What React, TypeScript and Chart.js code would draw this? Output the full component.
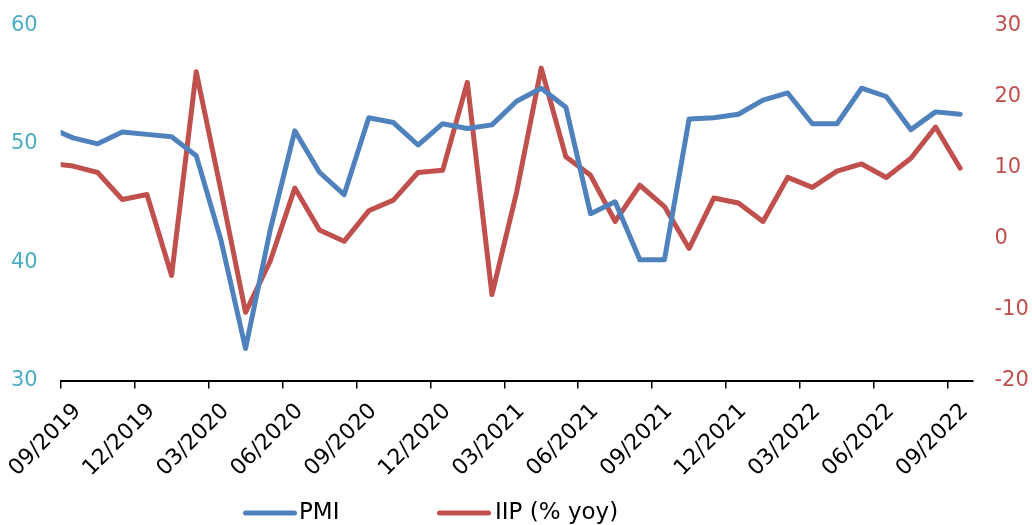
import React, { useEffect, useRef } from "react";
import { Chart, registerables } from "chart.js";

Chart.register(...registerables);

// Monthly categories (first one sits just left of the visible range and is clipped)
const months = [
  "08/2019", "09/2019", "10/2019", "11/2019", "12/2019",
  "01/2020", "02/2020", "03/2020", "04/2020", "05/2020", "06/2020",
  "07/2020", "08/2020", "09/2020", "10/2020", "11/2020", "12/2020",
  "01/2021", "02/2021", "03/2021", "04/2021", "05/2021", "06/2021",
  "07/2021", "08/2021", "09/2021", "10/2021", "11/2021", "12/2021",
  "01/2022", "02/2022", "03/2022", "04/2022", "05/2022", "06/2022",
  "07/2022", "08/2022", "09/2022",
];

const pmiValues = [
  51.4, 50.5, 50.0, 51.0, 50.8,
  50.6, 49.0, 41.9, 32.7, 42.7, 51.1,
  47.6, 45.7, 52.2, 51.8, 49.9, 51.7,
  51.3, 51.6, 53.6, 54.7, 53.1, 44.1,
  45.1, 40.2, 40.2, 52.1, 52.2, 52.5,
  53.7, 54.3, 51.7, 51.7, 54.7, 54.0,
  51.2, 52.7, 52.5,
];

const iipValues = [
  10.6, 10.2, 9.3, 5.5, 6.2,
  -5.2, 23.5, 6.8, -10.4, -3.2, 7.1,
  1.2, -0.4, 3.9, 5.4, 9.3, 9.6,
  22.0, -7.9, 6.5, 24.0, 11.5, 8.9,
  2.4, 7.5, 4.5, -1.4, 5.7, 5.0,
  2.4, 8.6, 7.2, 9.5, 10.5, 8.6,
  11.3, 15.7, 9.9,
];

const xTickLabels = [
  "09/2019", "12/2019", "03/2020", "06/2020", "09/2020", "12/2020",
  "03/2021", "06/2021", "09/2021", "12/2021", "03/2022", "06/2022", "09/2022",
];

const leftTicks = [30, 40, 50, 60];
const rightTicks = [-20, -10, 0, 10, 20, 30];
const seriesNames = ["PMI", "IIP (% yoy)"];

const BLUE = "#4F81BD";
const RED = "#C0504D";
const TEAL = "#4BACC6";
const FONT = "DejaVu Sans";

// first visible category sits at x = 0 (09/2019)
const xOf = (label: string) => months.indexOf(label) - months.indexOf("09/2019");
const xTickValues = xTickLabels.map((l) => xOf(l) - 0.5);
const xMin = xOf("09/2019") - 0.5;
const xMax = xOf("09/2022") + 0.5;

const legendPlugin = {
  id: "customLegend",
  afterDraw(chart: any) {
    const ctx = chart.ctx as CanvasRenderingContext2D;
    const items = [
      { x: 245.5, tx: 299, text: seriesNames[0], color: BLUE },
      { x: 439.5, tx: 495, text: seriesNames[1], color: RED },
    ];
    const y = 513;
    ctx.save();
    ctx.lineCap = "round";
    ctx.lineWidth = 5;
    ctx.font = `23px "${FONT}"`;
    ctx.textBaseline = "middle";
    ctx.textAlign = "left";
    for (const it of items) {
      ctx.strokeStyle = it.color;
      ctx.beginPath();
      ctx.moveTo(it.x, y);
      ctx.lineTo(it.x + 49, y);
      ctx.stroke();
      ctx.fillStyle = "#000";
      ctx.fillText(it.text, it.tx, y);
    }
    ctx.restore();
  },
};

export default function App() {
  const canvasRef = useRef<HTMLCanvasElement | null>(null);

  useEffect(() => {
    if (!canvasRef.current) return;
    const toPts = (vals: number[]) =>
      vals.map((v, i) => ({ x: xOf(months[i]), y: v }));

    const chart = new Chart(canvasRef.current, {
      type: "line",
      data: {
        datasets: [
          {
            label: seriesNames[0],
            data: toPts(pmiValues),
            borderColor: BLUE,
            backgroundColor: BLUE,
            borderWidth: 5,
            pointRadius: 0,
            tension: 0,
            borderCapStyle: "round",
            borderJoinStyle: "round",
            yAxisID: "y",
          },
          {
            label: seriesNames[1],
            data: toPts(iipValues),
            borderColor: RED,
            backgroundColor: RED,
            borderWidth: 5,
            pointRadius: 0,
            tension: 0,
            borderCapStyle: "round",
            borderJoinStyle: "round",
            yAxisID: "y1",
          },
        ],
      },
      options: {
        responsive: false,
        animation: false,
        devicePixelRatio: 1,
        layout: { padding: { top: 25.5, left: 0, right: 0, bottom: 0 } },
        plugins: {
          legend: { display: false },
          tooltip: { enabled: false },
        },
        scales: {
          x: {
            type: "linear",
            min: xMin,
            max: xMax,
            afterBuildTicks: (scale: any) => {
              scale.ticks = xTickValues.map((v) => ({ value: v }));
            },
            afterFit: (scale: any) => {
              scale.height = 144.5;
              scale.paddingLeft = 0;
              scale.paddingRight = 0;
            },
            ticks: {
              autoSkip: false,
              minRotation: 45,
              maxRotation: 45,
              padding: 10,
              labelOffset: 17,
              color: "#000",
              font: { family: FONT, size: 22 },
              callback: (_v: any, i: number) => xTickLabels[i],
            },
            grid: {
              display: true,
              drawOnChartArea: false,
              drawTicks: true,
              tickLength: 8,
              color: "#000",
              lineWidth: 1.5,
            },
            border: { display: true, color: "#000", width: 2 },
          },
          y: {
            position: "left",
            min: 30,
            max: 60,
            afterBuildTicks: (scale: any) => {
              scale.ticks = leftTicks.map((v) => ({ value: v }));
            },
            afterFit: (scale: any) => {
              scale.width = 60.7;
              scale.paddingTop = 0;
              scale.paddingBottom = 0;
            },
            ticks: {
              padding: 23,
              color: TEAL,
              font: { family: FONT, size: 21 },
            },
            grid: { display: false, drawTicks: false },
            border: { display: false },
          },
          y1: {
            position: "right",
            min: -20,
            max: 30,
            afterBuildTicks: (scale: any) => {
              scale.ticks = rightTicks.map((v) => ({ value: v }));
            },
            afterFit: (scale: any) => {
              scale.width = 59.5;
              scale.paddingTop = 0;
              scale.paddingBottom = 0;
            },
            ticks: {
              padding: 22,
              color: RED,
              font: { family: FONT, size: 21 },
            },
            grid: { display: false, drawTicks: false },
            border: { display: false },
          },
        },
      },
      plugins: [legendPlugin],
    } as any);

    return () => chart.destroy();
  }, []);

  return (
    <div
      style={{
        position: "fixed",
        left: 0,
        top: 0,
        width: 1032,
        height: 525,
        background: "#fff",
      }}
    >
      <canvas
        ref={canvasRef}
        width={1032}
        height={525}
        style={{ display: "block", width: 1032, height: 525 }}
      />
    </div>
  );
}
